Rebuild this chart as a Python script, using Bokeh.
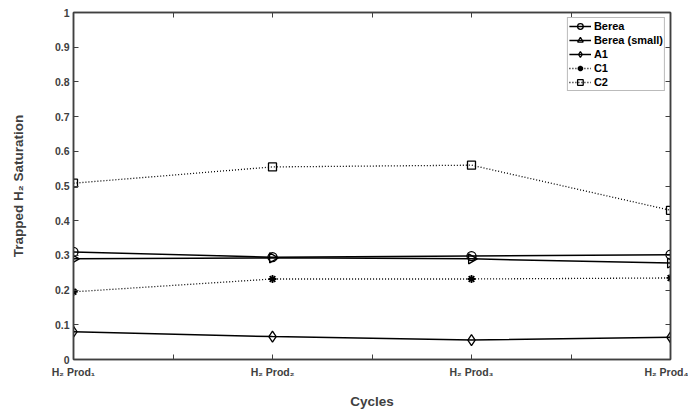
from bokeh.plotting import figure
from bokeh.models import Range1d, FixedTicker, LinearAxis, Legend, LegendItem
from bokeh.embed import file_html
from bokeh.resources import INLINE
import numpy as np

# ---- data ----
cycles = [1, 2, 3, 4]
cycle_labels = ["H\u2082 Prod\u2081", "H\u2082 Prod\u2082", "H\u2082 Prod\u2083", "H\u2082 Prod\u2084"]
berea = [0.310, 0.295, 0.298, 0.302]
berea_small = [0.290, 0.293, 0.290, 0.278]
a1 = [0.080, 0.066, 0.056, 0.064]
c1 = [0.195, 0.232, 0.232, 0.235]
c2 = [0.508, 0.555, 0.560, 0.430]
y_ticks = [0, 0.1, 0.2, 0.3, 0.4, 0.5, 0.6, 0.7, 0.8, 0.9, 1]
x_ticks = [1, 1.5, 2, 2.5, 3, 3.5, 4]

AX = "#404040"
FONT = "Liberation Sans"

p = figure(width=688, height=411, output_backend="svg", toolbar_location=None,
           x_range=Range1d(1, 4), y_range=Range1d(0, 1),
           min_border_left=73, min_border_right=18, min_border_top=12, min_border_bottom=50)
p.xgrid.visible = False
p.ygrid.visible = False
p.outline_line_color = AX
p.outline_line_width = 1.5

def style_axis(ax):
    ax.axis_line_color = AX
    ax.axis_line_width = 1.5
    ax.major_tick_line_color = AX
    ax.major_tick_in = 5
    ax.major_tick_out = 0
    ax.minor_tick_line_color = None
    ax.major_label_text_font = FONT
    ax.major_label_text_font_style = "bold"
    ax.major_label_text_font_size = "10.5px"
    ax.major_label_text_color = AX
    ax.axis_label_text_font = FONT
    ax.axis_label_text_font_style = "bold"
    ax.axis_label_text_font_size = "13.5px"
    ax.axis_label_text_color = AX

xa = p.xaxis[0]
style_axis(xa)
xa.ticker = FixedTicker(ticks=x_ticks)
ov = {t: "" for t in x_ticks}
for c, lab in zip(cycles, cycle_labels):
    ov[c] = lab
xa.major_label_overrides = ov
xa.major_label_standoff = 6
xa.axis_label = "Cycles"
xa.axis_label_standoff = 13

ya = p.yaxis[0]
style_axis(ya)
ya.ticker = FixedTicker(ticks=y_ticks)
ya.major_label_overrides = {0: "0", 1: "1"}
ya.major_label_standoff = 4
ya.axis_label = "Trapped H\u2082 Saturation"
ya.axis_label_standoff = 26

# mirrored ticks on right/top
ra = LinearAxis(ticker=FixedTicker(ticks=y_ticks))
style_axis(ra)
ra.major_label_overrides = {t: "" for t in y_ticks}
ra.major_label_standoff = 0
p.add_layout(ra, "right")
ta = LinearAxis(ticker=FixedTicker(ticks=x_ticks))
style_axis(ta)
ta.major_label_overrides = {t: "" for t in x_ticks}
ta.major_label_standoff = 0
p.add_layout(ta, "above")

LW = 1.5
MLW = 1.3
items = []
r1 = p.line(cycles, berea, line_color="black", line_width=LW)
m1 = p.scatter(cycles, berea, marker="circle", size=9, fill_color="white", fill_alpha=0, line_color="black", line_width=MLW)
items.append(LegendItem(label="Berea", renderers=[r1, m1]))
r2 = p.line(cycles, berea_small, line_color="black", line_width=LW)
m2 = p.scatter(cycles, berea_small, marker="triangle", angle=-np.pi / 2, size=10, fill_color="white", fill_alpha=0, line_color="black", line_width=MLW)
items.append(LegendItem(label="Berea (small)", renderers=[r2, m2]))
r3 = p.line(cycles, a1, line_color="black", line_width=LW)
m3 = p.scatter(cycles, a1, marker="diamond", size=11, fill_color="white", fill_alpha=0, line_color="black", line_width=MLW)
items.append(LegendItem(label="A1", renderers=[r3, m3]))
r4 = p.line(cycles, c1, line_color="black", line_width=1.3, line_dash="1 2")
m4 = p.scatter(cycles, c1, marker="asterisk", size=8, line_color="black", line_width=1.8)
items.append(LegendItem(label="C1", renderers=[r4, m4]))
r5 = p.line(cycles, c2, line_color="black", line_width=1.3, line_dash="1 2")
m5 = p.scatter(cycles, c2, marker="square", size=8, fill_color="white", fill_alpha=0, line_color="black", line_width=MLW)
items.append(LegendItem(label="C2", renderers=[r5, m5]))

leg = Legend(items=items, location="top_right")
leg.label_text_font = FONT
leg.label_text_font_style = "bold"
leg.label_text_font_size = "11px"
leg.label_text_color = "black"
leg.label_height = 12
leg.glyph_height = 14
leg.glyph_width = 22
leg.spacing = 0
leg.padding = 1
leg.margin = 5
leg.label_standoff = 3
leg.border_line_color = "#777777"
leg.border_line_width = 1
leg.background_fill_alpha = 1
p.add_layout(leg, "center")

open("out.html", "w").write(file_html(p, INLINE))
